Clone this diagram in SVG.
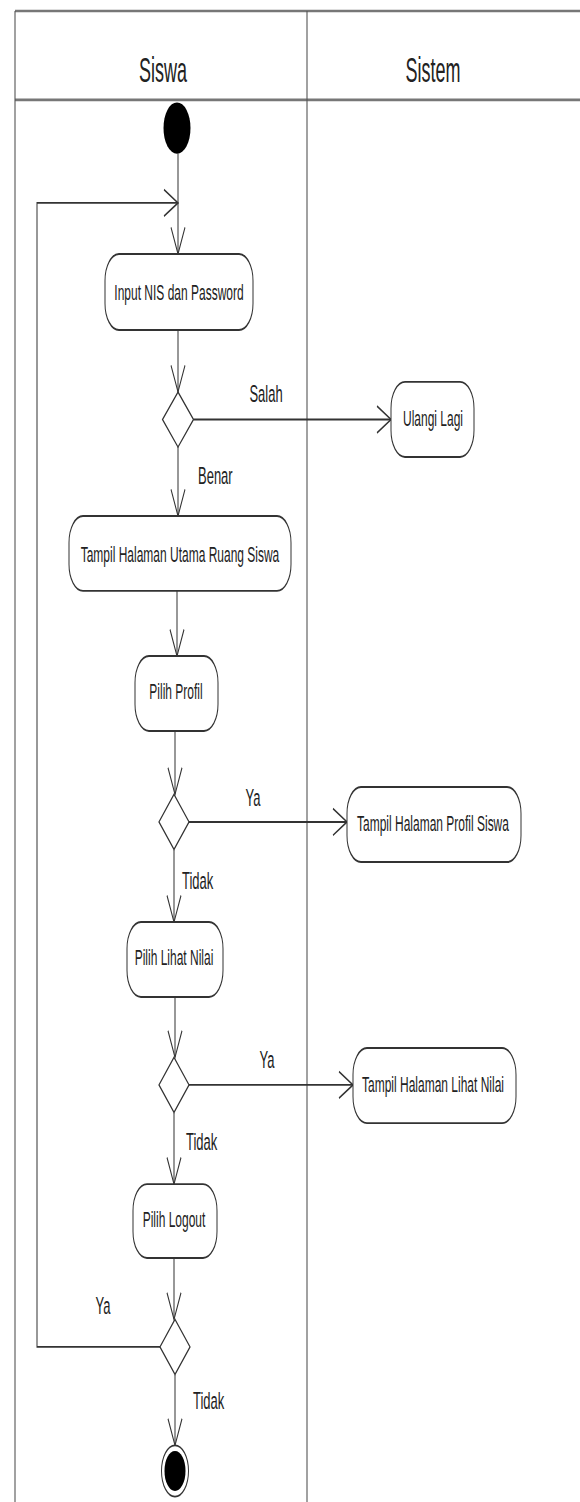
<svg xmlns="http://www.w3.org/2000/svg" width="580" height="1502" viewBox="0 0 580 1502">
  <style>
    .lane{fill:none;stroke:#555;stroke-width:1.1}
    .lane-h{fill:none;stroke:#777;stroke-width:1.4}
    .node rect,.node path{fill:#fff;stroke:#333;stroke-width:1}
    .flow{fill:none;stroke:#333;stroke-width:1;marker-end:url(#arrow)}
    .plain{fill:none;stroke:#333;stroke-width:1}
    text{font-family:"Liberation Sans",Arial,sans-serif;fill:#222}
    .act{font-size:12px;text-anchor:middle;dominant-baseline:central}
    .lbl{font-size:13px;dominant-baseline:central}
    .mid{text-anchor:middle}
    .hdr{font-size:18px;text-anchor:middle;dominant-baseline:central}
  </style>
  <defs>
    <marker id="arrow" markerUnits="userSpaceOnUse" markerWidth="20" markerHeight="20" viewBox="0 -10 20 20" refX="15" refY="0" orient="auto" overflow="visible">
      <path d="M1,-7 L15,0 L1,7" fill="none" stroke="#333" stroke-width="1"/>
    </marker>
  </defs>
  <rect width="580" height="1502" fill="#fff"/>
  <!-- drawing is laid out on a vertically stretched grid -->
  <g transform="scale(1,1.9)">
    <!-- swimlanes -->
    <g id="lanes">
      <path class="lane-h" d="M15,5.8 H580 M15,52.6 H580"/>
      <path class="lane" d="M15,5.8 V791 M307,5.8 V791"/>
      <text class="hdr" x="163" y="36.8">Siswa</text>
      <text class="hdr" x="433" y="36.8">Sistem</text>
    </g>

    <!-- connectors -->
    <g id="connectors">
      <path class="flow" d="M178,80.8 V133.7"/>
      <path class="flow" d="M178,173.7 V206.3"/>
      <path class="flow" d="M193.5,220.8 H391"/>
      <path class="flow" d="M178,235.3 V271.6"/>
      <path class="flow" d="M177,311 V345.3"/>
      <path class="flow" d="M175,384.7 V418.1"/>
      <path class="flow" d="M189,432.6 H347"/>
      <path class="flow" d="M174,447.1 V485.3"/>
      <path class="flow" d="M175,524.7 V556.5"/>
      <path class="flow" d="M189,571 H353"/>
      <path class="flow" d="M174,585.5 V623.2"/>
      <path class="flow" d="M174,662.1 V694.4"/>
      <path class="flow" d="M160,708.9 H37 V106.8 H178"/>
      <path class="flow" d="M175,723.4 V760.7"/>
      <text class="lbl mid" x="266" y="206.8">Salah</text>
      <text class="lbl" x="198" y="250">Benar</text>
      <text class="lbl mid" x="253" y="419.5">Ya</text>
      <text class="lbl" x="182" y="463.2">Tidak</text>
      <text class="lbl mid" x="267" y="557.4">Ya</text>
      <text class="lbl" x="186" y="600.5">Tidak</text>
      <text class="lbl mid" x="103" y="686.8">Ya</text>
      <text class="lbl" x="193" y="736.8">Tidak</text>
    </g>

    <!-- nodes -->
    <g id="start">
      <circle cx="177" cy="67.4" r="13.5" fill="#000"/>
    </g>
    <g id="input-nis" class="node">
      <rect x="105" y="133.7" width="148" height="40" rx="14"/>
      <text class="act" x="179" y="154.2">Input NIS dan Password</text>
    </g>
    <g id="cek-login" class="node">
      <path d="M178,206.3 L193.5,220.8 L178,235.3 L162.5,220.8 Z"/>
    </g>
    <g id="ulangi-lagi" class="node">
      <rect x="391" y="201" width="83" height="39.5" rx="14"/>
      <text class="act" x="433" y="220.5">Ulangi Lagi</text>
    </g>
    <g id="halaman-utama" class="node">
      <rect x="69" y="271.6" width="222" height="39.4" rx="14"/>
      <text class="act" x="180" y="292.1">Tampil Halaman Utama Ruang Siswa</text>
    </g>
    <g id="pilih-profil" class="node">
      <rect x="135" y="345.3" width="83" height="39.4" rx="14"/>
      <text class="act" x="176" y="364.2">Pilih Profil</text>
    </g>
    <g id="cek-profil" class="node">
      <path d="M174,418.1 L189,432.6 L174,447.1 L159,432.6 Z"/>
    </g>
    <g id="halaman-profil" class="node">
      <rect x="347" y="414.2" width="174" height="39.5" rx="14"/>
      <text class="act" x="433" y="433.2">Tampil Halaman Profil Siswa</text>
    </g>
    <g id="pilih-nilai" class="node">
      <rect x="127" y="485.3" width="96" height="39.4" rx="14"/>
      <text class="act" x="174" y="504.2">Pilih Lihat Nilai</text>
    </g>
    <g id="cek-nilai" class="node">
      <path d="M174,556.5 L189,571 L174,585.5 L159,571 Z"/>
    </g>
    <g id="halaman-nilai" class="node">
      <rect x="353" y="551.6" width="163" height="39.5" rx="14"/>
      <text class="act" x="433" y="571">Tampil Halaman Lihat Nilai</text>
    </g>
    <g id="pilih-logout" class="node">
      <rect x="133" y="623.2" width="84" height="38.9" rx="14"/>
      <text class="act" x="174" y="642.1">Pilih Logout</text>
    </g>
    <g id="cek-logout" class="node">
      <path d="M175,694.4 L190,708.9 L175,723.4 L160,708.9 Z"/>
    </g>
    <g id="end">
      <circle cx="175" cy="774.2" r="13.5" fill="#fff" stroke="#333" stroke-width="1"/>
      <circle cx="175" cy="774.2" r="10.5" fill="#000"/>
    </g>
  </g>
</svg>
